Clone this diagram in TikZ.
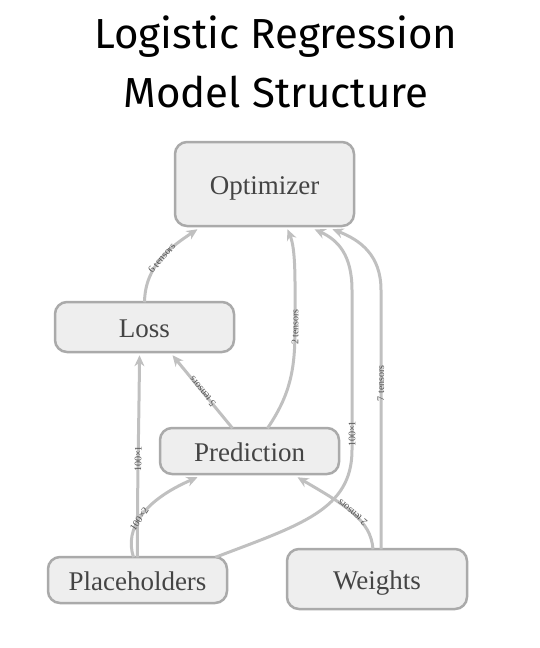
\documentclass[tikz,border=0pt]{standalone}
\usepackage{fontspec}
\setmainfont{Liberation Serif}
\newfontfamily\titlefont{Fira Sans}
\usetikzlibrary{arrows.meta}
\definecolor{boxfill}{HTML}{EEEEEE}
\definecolor{boxline}{HTML}{AAAAAA}
\definecolor{edgecol}{HTML}{C0C0C0}
\definecolor{txt}{HTML}{444444}
\definecolor{lbl}{HTML}{505050}
\tikzset{
  opbox/.style={draw=boxline, fill=boxfill, line width=2.5pt, rounded corners=12pt,
    text=txt, font=\fontsize{27}{30}\selectfont, inner sep=0pt, text height=21pt, text depth=0pt},
  flow/.style={draw=edgecol, line width=3pt, -{Stealth[length=11pt,width=10pt]}},
  elabel/.style={font=\fontsize{10}{11}\selectfont, text=lbl, inner sep=0pt, sloped, allow upside down},
  ttl/.style={font=\titlefont\fontsize{42}{46}\selectfont, text=black}
}
\begin{document}
\begin{tikzpicture}[x=1pt,y=-1pt]
\useasboundingbox (0,0) rectangle (540,648);
\node[ttl] (t1) at (276,37) {Logistic Regression};
\node[ttl] (t2) at (276,92) {Model Structure};

\node[opbox, minimum width=179pt, minimum height=84pt] (opt) at (264.5,184) {Optimizer};
\node[opbox, minimum width=179pt, minimum height=50pt] (loss) at (144.5,327) {Loss};
\node[opbox, minimum width=179pt, minimum height=46pt] (pred) at (249.5,451) {Prediction};
\node[opbox, minimum width=179pt, minimum height=46pt] (ph) at (137.5,580) {Placeholders};
\node[opbox, minimum width=180pt, minimum height=60pt] (w) at (377,579) {Weights};

% Loss -> Optimizer
\draw[flow] ([yshift=-1.5pt]loss.north) .. controls (145,265) and (172,246) .. node[elabel, pos=0.5] {6 tensors} ([xshift=-67pt,yshift=-2pt]opt.south);
% Prediction -> Optimizer
\draw[flow] ([xshift=18pt,yshift=-1.5pt]pred.north) .. controls (290,395) and (295,370) .. (295,330)
  .. controls (295,280) and (296,250) .. node[elabel, pos=0.02] {2 tensors} ([xshift=23pt,yshift=-2pt]opt.south);
% Prediction -> Loss
\draw[flow] ([xshift=-17pt,yshift=-1.5pt]pred.north) -- node[elabel] {5 tensors} ([xshift=28pt,yshift=-2pt]loss.south);
% Placeholders -> Loss
\draw[flow] ([yshift=-1.5pt]ph.north) .. controls (137,500) and (139,420) .. node[elabel, pos=0.5] {100×1} ([xshift=-5pt,yshift=-2pt]loss.south);
% Placeholders -> Prediction
\draw[flow] ([xshift=-4pt,yshift=-1.5pt]ph.north) .. controls (124,528) and (145,500) .. node[elabel, pos=0.45] {100×2} ([xshift=-52pt,yshift=-2pt]pred.south);
% Placeholders -> Optimizer
\draw[flow] ([xshift=78pt,yshift=-1.5pt]ph.north) .. controls (300,525) and (352,510) .. (352,450)
  -- node[elabel, pos=0.1] {100×1} (352,290)
  .. controls (352,255) and (338,240) .. ([xshift=50pt,yshift=-2pt]opt.south);
% Weights -> Prediction
\draw[flow] ([xshift=-4pt,yshift=-1.5pt]w.north) .. controls (371,520) and (345,505) .. node[elabel, pos=0.5] {2 tensors} ([xshift=48pt,yshift=-2pt]pred.south);
% Weights -> Optimizer
\draw[flow] ([xshift=4pt,yshift=-1.5pt]w.north) -- node[elabel, pos=0.64] {7 tensors} (381,290)
  .. controls (381,255) and (360,240) .. ([xshift=68pt,yshift=-2pt]opt.south);
\end{tikzpicture}
\end{document}
